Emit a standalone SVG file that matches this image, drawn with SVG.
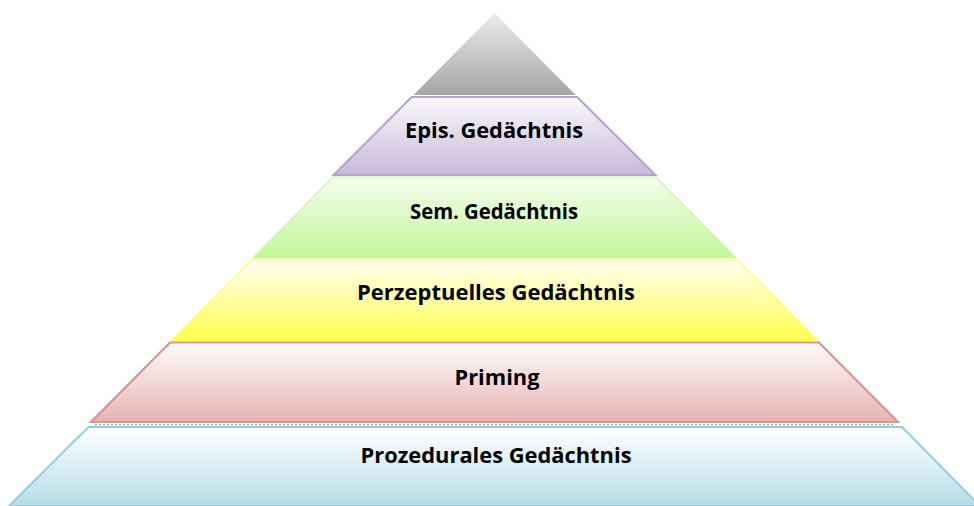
<svg xmlns="http://www.w3.org/2000/svg" width="974" height="506" viewBox="0 0 974 506">
  <defs>
    <linearGradient id="gGray" x1="0" y1="0" x2="0" y2="1">
      <stop offset="0" stop-color="#ececec"/>
      <stop offset="1" stop-color="#a5a5a5"/>
    </linearGradient>
    <linearGradient id="gPurple" x1="0" y1="0" x2="0" y2="1">
      <stop offset="0" stop-color="#faf8fc"/>
      <stop offset="1" stop-color="#c9bad9"/>
    </linearGradient>
    <linearGradient id="gGreen" x1="0" y1="0" x2="0" y2="1">
      <stop offset="0" stop-color="#f5fdee"/>
      <stop offset="1" stop-color="#c3f798"/>
    </linearGradient>
    <linearGradient id="gYellow" x1="0" y1="0" x2="0" y2="1">
      <stop offset="0" stop-color="#fffff2"/>
      <stop offset="1" stop-color="#ffff4d"/>
    </linearGradient>
    <linearGradient id="gPink" x1="0" y1="0" x2="0" y2="1">
      <stop offset="0" stop-color="#fefcfc"/>
      <stop offset="1" stop-color="#e5b3b2"/>
    </linearGradient>
    <linearGradient id="gBlue" x1="0" y1="0" x2="0" y2="1">
      <stop offset="0" stop-color="#ffffff"/>
      <stop offset="1" stop-color="#b6dde8"/>
    </linearGradient>
  </defs>
  <style>
    .lbl { font-family: "Open Sans", "Liberation Sans", Arial, sans-serif; font-weight: bold; font-size: 20.5px; fill: #000; text-anchor: middle; }
  </style>

  <!-- top cap -->
  <g id="apex">
    <polygon points="494.5,13 575.5,95 413.5,95" fill="url(#gGray)"/>
  </g>

  <g id="episodic">
    <polygon points="411.8,97 577.2,97 655.5,175 333.5,175" fill="url(#gPurple)" stroke="#b3a2cb" stroke-width="2" stroke-linejoin="miter"/>
    <text class="lbl" x="494" y="138" textLength="178" lengthAdjust="spacingAndGlyphs">Epis. Gedächtnis</text>
  </g>

  <g id="semantic">
    <polygon points="333,177 656,177 736,258 253,258" fill="url(#gGreen)" stroke="#c6f7a0" stroke-width="1.2"/>
    <text class="lbl" x="494" y="219" textLength="168" lengthAdjust="spacingAndGlyphs">Sem. Gedächtnis</text>
  </g>

  <g id="perceptual">
    <polygon points="251.5,260 737.5,260 818,341 171,341" fill="url(#gYellow)" stroke="#ffff66" stroke-width="1.2"/>
    <text class="lbl" x="496" y="300" textLength="278" lengthAdjust="spacingAndGlyphs">Perzeptuelles Gedächtnis</text>
  </g>

  <g id="priming">
    <polygon points="170,342.5 819,342.5 898,422 91,422" fill="url(#gPink)" stroke="#d99594" stroke-width="2.2"/>
    <line x1="95" y1="424.6" x2="894" y2="424.6" stroke="#9a8a8c" stroke-width="1.4" stroke-dasharray="2 2" opacity="0.8"/>
    <text class="lbl" x="497" y="385" textLength="85" lengthAdjust="spacingAndGlyphs">Priming</text>
  </g>

  <g id="procedural">
    <polygon points="88.5,427 902,427 980,506 9,506" fill="url(#gBlue)" stroke="#93cddd" stroke-width="2"/>
    <text class="lbl" x="496" y="463" textLength="271" lengthAdjust="spacingAndGlyphs">Prozedurales Gedächtnis</text>
  </g>
</svg>
